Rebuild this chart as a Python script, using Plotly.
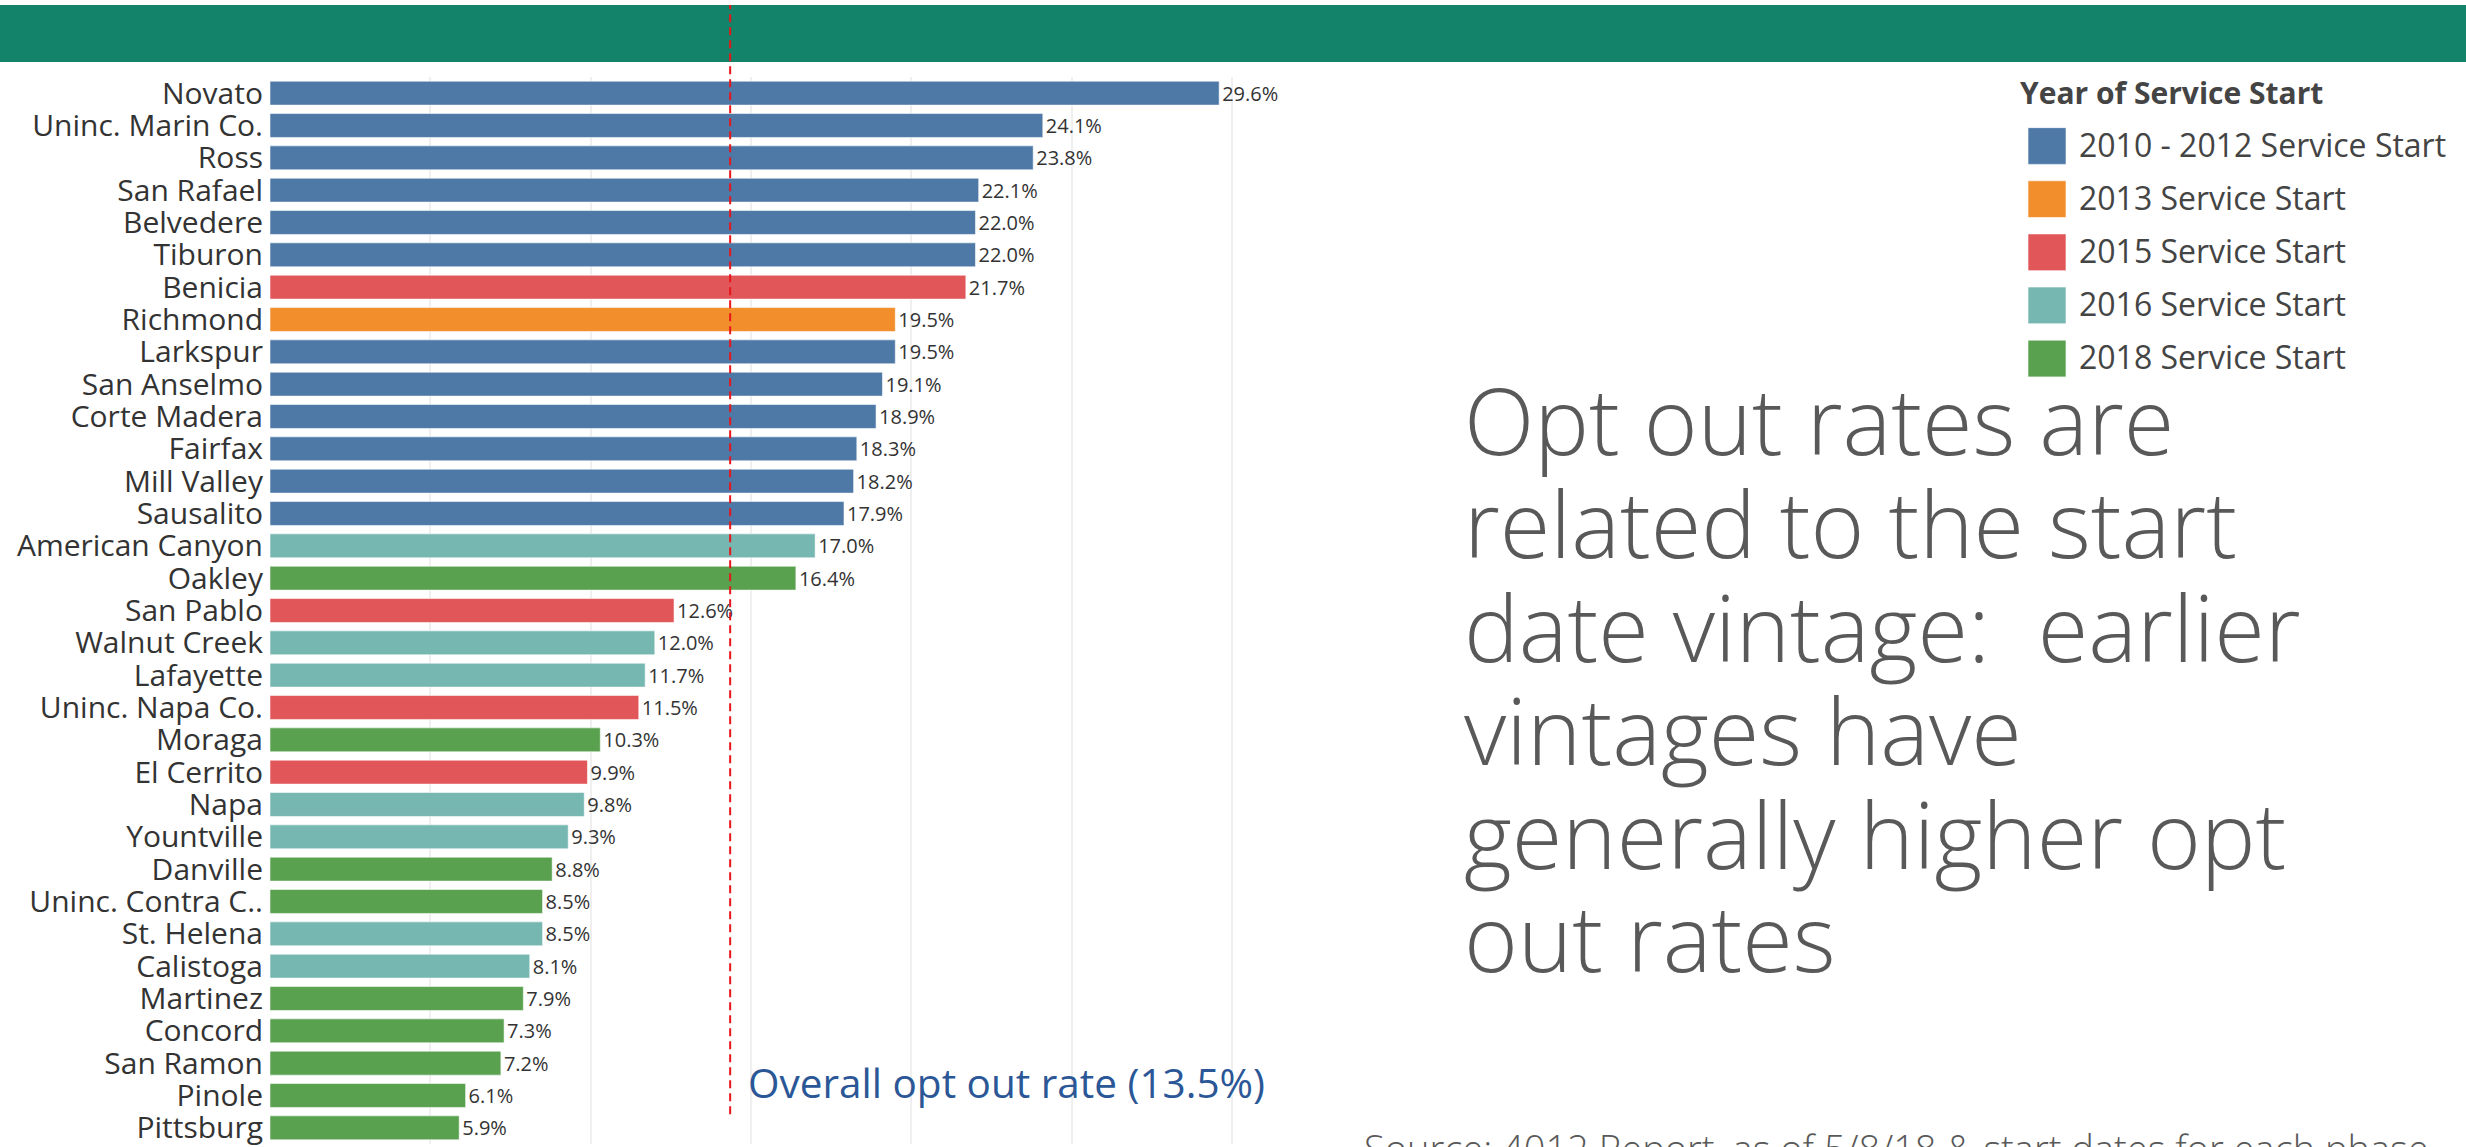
import plotly.graph_objects as go

# ---------------- data ----------------
cities = [
    "Novato", "Uninc. Marin Co.", "Ross", "San Rafael", "Belvedere", "Tiburon",
    "Benicia", "Richmond", "Larkspur", "San Anselmo", "Corte Madera", "Fairfax",
    "Mill Valley", "Sausalito", "American Canyon", "Oakley", "San Pablo",
    "Walnut Creek", "Lafayette", "Uninc. Napa Co.", "Moraga", "El Cerrito",
    "Napa", "Yountville", "Danville", "Uninc. Contra C..", "St. Helena",
    "Calistoga", "Martinez", "Concord", "San Ramon", "Pinole", "Pittsburg",
]
opt_out_rate = [
    29.6, 24.1, 23.8, 22.1, 22.0, 22.0,
    21.7, 19.5, 19.5, 19.1, 18.9, 18.3,
    18.2, 17.9, 17.0, 16.4, 12.6,
    12.0, 11.7, 11.5, 10.3, 9.9,
    9.8, 9.3, 8.8, 8.5, 8.5,
    8.1, 7.9, 7.3, 7.2, 6.1, 5.9,
]
service_start = [
    "2010 - 2012 Service Start", "2010 - 2012 Service Start", "2010 - 2012 Service Start",
    "2010 - 2012 Service Start", "2010 - 2012 Service Start", "2010 - 2012 Service Start",
    "2015 Service Start", "2013 Service Start", "2010 - 2012 Service Start",
    "2010 - 2012 Service Start", "2010 - 2012 Service Start", "2010 - 2012 Service Start",
    "2010 - 2012 Service Start", "2010 - 2012 Service Start", "2016 Service Start",
    "2018 Service Start", "2015 Service Start",
    "2016 Service Start", "2016 Service Start", "2015 Service Start",
    "2018 Service Start", "2015 Service Start",
    "2016 Service Start", "2016 Service Start", "2018 Service Start",
    "2018 Service Start", "2016 Service Start",
    "2016 Service Start", "2018 Service Start", "2018 Service Start",
    "2018 Service Start", "2018 Service Start", "2018 Service Start",
]
legend_groups = [
    "2010 - 2012 Service Start", "2013 Service Start", "2015 Service Start",
    "2016 Service Start", "2018 Service Start",
]
group_colors = ["#4E79A7", "#F28E2B", "#E15759", "#76B7B2", "#59A14F"]
overall_rate_label = "Overall opt out rate (13.5%)"
overall_line_pos = 14.35   # where the dashed reference line sits in the picture
x_range = [0, 30.3]

headline_lines = [
    "Opt out rates are",
    "related to the start",
    "date vintage:  earlier",
    "vintages have",
    "generally higher opt",
    "out rates",
]
source_text = "Source: 4012 Report, as of 5/8/18 & start dates for each phase"

# ---------------- layout helpers ----------------
W, H = 2466, 1147
def px(x):
    return x / W
def py(y):
    return 1 - y / H

color_map = dict(zip(legend_groups, group_colors))
bar_colors = [color_map[g] for g in service_start]

fig = go.Figure()
fig.add_trace(go.Bar(
    x=opt_out_rate,
    y=cities,
    orientation="h",
    marker=dict(color=bar_colors, line=dict(color="rgba(255,255,255,0.55)", width=1)),
    text=[f"{v:.1f}%" for v in opt_out_rate],
    textposition="outside",
    textfont=dict(family="Open Sans", size=20, color="#333333"),
    constraintext="none",
    cliponaxis=False,
    showlegend=False,
    hoverinfo="x+y",
))

x_dom = [px(270), px(270) + (px(1232) - px(270)) * (x_range[1] - x_range[0]) / 30.0]

fig.update_layout(
    width=W, height=H,
    margin=dict(l=0, r=0, t=0, b=0),
    paper_bgcolor="white",
    plot_bgcolor="white",
    bargap=0.26,
    xaxis=dict(
        domain=x_dom, range=x_range, dtick=5, showticklabels=False,
        showgrid=True, gridcolor="#EFEFEF", gridwidth=1.5, zeroline=False, showline=False,
    ),
    yaxis=dict(
        domain=[0, py(72.5)], categoryorder="array", categoryarray=cities,
        tickmode="array", tickvals=cities, ticktext=cities,
        autorange="reversed", showgrid=False, zeroline=False, showline=False,
        ticks="", ticklabelstandoff=6,
        tickfont=dict(family="Open Sans", size=30, color="#333333"),
    ),
)

shapes = []
# green header band
shapes.append(dict(type="rect", xref="paper", yref="paper", x0=0, x1=1,
                   y0=py(57.5), y1=1, fillcolor="#13846A", line=dict(width=0), layer="above"))
# dashed reference line
shapes.append(dict(type="line", xref="x", yref="paper", x0=overall_line_pos, x1=overall_line_pos,
                   y0=py(1117), y1=1, line=dict(color="#E8161B", width=2, dash="8px,5px"),
                   layer="above"))

annotations = []
annotations.append(dict(
    text=overall_rate_label, xref="paper", yref="paper", x=px(746), y=py(1085),
    xanchor="left", yanchor="middle", showarrow=False,
    font=dict(family="Open Sans", size=40.5, color="#2B5797"),
))

# legend (custom, drawn from legend_groups / group_colors)
annotations.append(dict(
    text="<b>Year of Service Start</b>", xref="paper", yref="paper", x=px(2018), y=py(88),
    xanchor="left", yanchor="middle", showarrow=False,
    font=dict(family="Open Sans", size=30, color="#444444"),
))
for i, (g, c) in enumerate(zip(legend_groups, group_colors)):
    cy = 142 + 53.5 * i
    shapes.append(dict(type="rect", xref="paper", yref="paper",
                       x0=px(2028), x1=px(2066), y0=py(cy + 18.5), y1=py(cy - 18.5),
                       fillcolor=c, line=dict(color="rgba(255,255,255,0.6)", width=1)))
    annotations.append(dict(
        text=g, xref="paper", yref="paper", x=px(2077), y=py(cy - 2),
        xanchor="left", yanchor="middle", showarrow=False,
        font=dict(family="Open Sans", size=32, color="#444444"),
    ))

# headline text
for i, line in enumerate(headline_lines):
    base = 459 + 104.3 * i
    annotations.append(dict(
        text=line, xref="paper", yref="paper", x=px(1462), y=py(base - 42),
        xanchor="left", yanchor="middle", showarrow=False,
        font=dict(family="Open Sans", size=92, color="#595959", weight=300),
    ))

# source (partly cut off at bottom)
annotations.append(dict(
    text=source_text, xref="paper", yref="paper", x=px(1362), y=py(1123),
    xanchor="left", yanchor="top", showarrow=False,
    font=dict(family="Open Sans", size=38, color="#595959", weight=300),
))

fig.update_layout(shapes=shapes, annotations=annotations)
fig.write_html(
    "out.html",
    config={"displayModeBar": False},
    post_script="document.body.style.margin='0';document.body.style.overflow='hidden';",
)
